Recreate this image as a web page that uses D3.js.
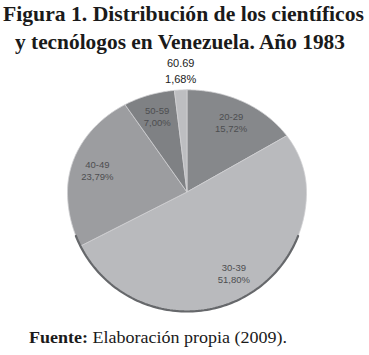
<!DOCTYPE html>
<html><head><meta charset="utf-8">
<script src="https://cdn.jsdelivr.net/npm/d3@7"></script>
<style>html,body{margin:0;padding:0;background:#fff;}svg{display:block;}</style>
</head><body>
<svg id="c" width="369" height="355"></svg>
<script>
const categories = ["20-29", "30-39", "40-49", "50-59", "60.69"];
const values = [15.72, 51.80, 23.79, 7.00, 1.68];
const valueLabels = ["15,72%", "51,80%", "23,79%", "7,00%", "1,68%"];
const colors = ["#86888b", "#b9babd", "#9c9da0", "#7f8184", "#bdbec1"];
const titleLines = ["Figura 1. Distribución de los científicos", "y tecnólogos en Venezuela. Año 1983"];

const svg = d3.select("#c");
const cx = 187, cy = 192, R = 119.5, kTop = 0.855;

// projection for the slightly tilted pie (flattened top half)
function proj(a, r) {
  const c = Math.cos(a);
  return [cx + r * Math.sin(a), cy - r * c * (c > 0 ? kTop : 1)];
}

const pie = d3.pie().sort(null).value(d => d)(values);
const line = d3.line();

function slicePath(d) {
  const pts = [[cx, cy]];
  const n = Math.max(4, Math.ceil((d.endAngle - d.startAngle) / 0.01));
  for (let i = 0; i <= n; i++) {
    const a = d.startAngle + (d.endAngle - d.startAngle) * i / n;
    pts.push(proj(a, R));
  }
  return line(pts) + "Z";
}

const g = svg.append("g");
g.selectAll("path.slice").data(pie).join("path")
  .attr("class", "slice")
  .attr("d", slicePath)
  .attr("fill", (d, i) => colors[i])
  .attr("stroke", "#d0d1d3")
  .attr("stroke-width", 0.8)
  .attr("stroke-linejoin", "round");

// dark lower rim
const rimPts = d3.range(0, 101).map(i => {
  const a = Math.PI * 0.62 + (Math.PI * 0.76) * i / 100;
  return proj(a, R);
});
g.append("path").attr("d", line(rimPts)).attr("fill", "none")
  .attr("stroke", "#66686b").attr("stroke-width", 2.2).attr("stroke-linecap", "round");

// inner labels
const lab = svg.append("g").attr("font-family", "'Liberation Sans', Arial, sans-serif")
  .attr("font-size", 9.5).attr("fill", "#4d4e50").attr("text-anchor", "middle");
pie.forEach((d, i) => {
  if (i === 4) return;
  const mid = (d.startAngle + d.endAngle) / 2;
  const p = proj(mid, R * 0.78);
  const t = lab.append("text").attr("x", p[0]).attr("y", p[1] - 2);
  t.append("tspan").attr("x", p[0]).attr("dy", 0).text(categories[i]);
  t.append("tspan").attr("x", p[0]).attr("dy", 12).text(valueLabels[i]);
});

// outside label for smallest slice
{
  const d = pie[4];
  const mid = (d.startAngle + d.endAngle) / 2;
  const p = proj(mid, R);
  const t = svg.append("text").attr("font-family", "'Liberation Sans', Arial, sans-serif")
    .attr("font-size", 11).attr("fill", "#222").attr("text-anchor", "middle")
    .attr("x", p[0]).attr("y", p[1] - 23);
  t.append("tspan").attr("x", p[0]).attr("dy", 0).text(categories[4]);
  t.append("tspan").attr("x", p[0]).attr("dy", 16).text(valueLabels[4]);
}

// title
const tt = svg.append("g").attr("font-family", "'Liberation Serif', 'Times New Roman', serif")
  .attr("font-weight", "bold").attr("font-size", 22).attr("fill", "#1a1a1a");
tt.append("text").attr("x", 3).attr("y", 21).attr("textLength", 361)
  .attr("lengthAdjust", "spacingAndGlyphs").text(titleLines[0]);
tt.append("text").attr("x", 15).attr("y", 49).attr("textLength", 330)
  .attr("lengthAdjust", "spacingAndGlyphs").text(titleLines[1]);

// source
const src = svg.append("text").attr("font-family", "'Liberation Serif', 'Times New Roman', serif")
  .attr("font-size", 16).attr("fill", "#1a1a1a").attr("x", 29).attr("y", 343)
  .attr("textLength", 258).attr("lengthAdjust", "spacingAndGlyphs");
src.append("tspan").attr("font-weight", "bold").text("Fuente:");
src.append("tspan").text(" Elaboración propia (2009).");
</script>
</body></html>
